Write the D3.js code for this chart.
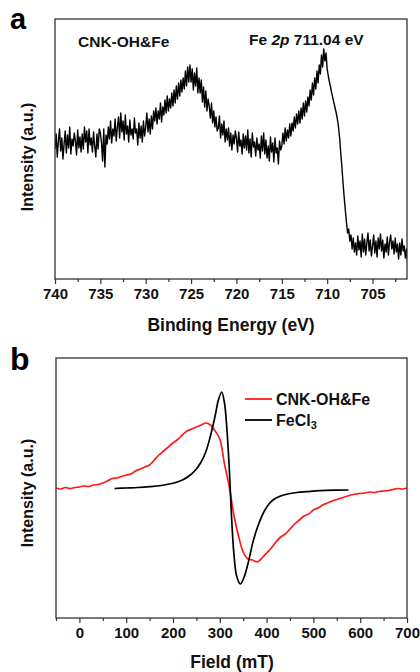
<!DOCTYPE html>
<html>
<head>
<meta charset="utf-8">
<script src="https://cdn.jsdelivr.net/npm/d3@7"></script>
<style>
  body { margin: 0; background: #fff; }
  svg { font-family: Arial, "Liberation Sans", Helvetica, sans-serif; }
</style>
</head>
<body>
<svg id="chart" width="420" height="672"></svg>
<script>
// ---- panel a : Fe 2p XPS (binding energy sampled every 0.125 eV from 740 eV) ----
const xpsStart = 740;
const xpsStep = 0.125;
const xpsIntensity = [
  130, 145, 122, 138, 150, 128, 141, 120,
  135, 148, 126, 144, 131, 152, 125, 140,
  133, 146, 138, 124, 149, 131, 142, 127,
  145, 130, 152, 137, 148, 126, 150, 134,
  141, 127, 147, 133, 122, 145, 130, 150,
  146, 136, 118, 150, 112, 144, 135, 152,
  140, 158, 136, 150, 143, 160, 138, 152,
  162, 141, 166, 147, 158, 139, 164, 145,
  153, 137, 159, 144, 150, 140, 161, 146,
  150, 134, 156, 141, 153, 137, 158, 143,
  152, 166, 147, 160, 145, 163, 150, 168,
  158, 171, 155, 168, 160, 176, 157, 172,
  164, 179, 166, 183, 168, 180, 171, 186,
  173, 189, 176, 193, 180, 196, 183, 199,
  187, 201, 190, 208, 193, 212, 197, 214,
  197, 210, 189, 206, 193, 211, 186, 201,
  186, 199, 177, 192, 172, 188, 168, 180,
  173, 161, 176, 156, 168, 152, 162, 148,
  151, 163, 141, 155, 144, 158, 137, 150,
  139, 151, 133, 146, 129, 144, 135, 148,
  141, 127, 147, 133, 139, 125, 145, 131,
  143, 129, 149, 126, 140, 122, 146, 132,
  137, 123, 141, 129, 135, 121, 143, 128,
  146, 125, 139, 121, 133, 118, 142, 127,
  136, 117, 141, 126, 131, 115, 138, 129,
  133, 146, 135, 151, 138, 149, 141, 155,
  143, 156, 148, 162, 151, 165, 155, 168,
  156, 171, 160, 176, 163, 178, 167, 182,
  173, 189, 179, 196, 184, 201, 190, 208,
  196, 214, 205, 224, 212, 230, 218, 226,
  210, 203, 197, 192, 186, 181, 176, 171,
  166, 160, 152, 141, 126, 112, 96, 82,
  69, 57, 46, 50, 38, 44, 30, 41,
  27, 36, 24, 43, 29, 38, 22, 45,
  27, 40, 24, 36, 46, 28, 39, 23,
  33, 44, 26, 38, 22, 41, 30, 45,
  28, 39, 21, 35, 27, 42, 24, 37,
  44, 30, 38, 25, 41, 27, 35, 20,
  36, 24, 40, 28, 33, 21, 30, 16
];
const xpsTicks = [740, 735, 730, 725, 720, 715, 710, 705];

// ---- panel b : EPR ----
const eprRedField = [-50, -40, -30, -20, -10, 0, 10, 20, 30, 40, 50, 60, 70, 80, 90, 100, 110, 120, 130, 140,
  150, 160, 170, 180, 190, 200, 210, 220, 230, 240, 250, 260, 270, 280, 290, 300, 310, 320, 330, 340,
  350, 360, 370, 380, 390, 400, 410, 420, 430, 440, 450, 460, 470, 480, 490, 500, 510, 520, 530, 540,
  550, 560, 570, 580, 590, 600, 610, 620, 630, 640, 650, 660, 670, 680, 690, 700];
const eprRedValue = [0, -1, 0.5, -0.5, 0.5, 1, 2, 1.5, 3, 3.5, 5, 7, 9.5, 10, 11.5, 13, 14, 17, 19, 21,
  23, 28, 33, 37, 41, 45, 48.5, 53, 57, 59, 61, 63, 65, 63, 57, 49, 24, 2, -27, -48,
  -64, -71, -72, -74, -70, -65, -60, -54, -49, -46, -41, -36, -32, -28, -26, -22, -20, -17, -15, -13,
  -11.5, -10, -8.5, -7, -6, -5.5, -5, -4, -4.5, -3.5, -3, -2.5, -1.5, -0.5, -1, 0];
const eprBlackField = [75, 100, 125, 150, 175, 200, 220, 237, 250, 260, 270, 280, 290, 297, 304, 310, 315, 320,
  325, 330, 336, 344, 352, 360, 372, 383, 393, 405, 415, 430, 445, 465, 486, 514, 545, 575];
const eprBlackValue = [-0.5, 0, 0.5, 1.3, 2.5, 4.7, 8, 13, 19, 26, 36, 52, 72, 88, 96, 85, 60, 22,
  -28, -65, -88, -96, -89, -76, -52, -36, -25, -16, -11.5, -8, -6, -4.5, -3.7, -2.7, -2.2, -2];
const eprTicks = [0, 100, 200, 300, 400, 500, 600, 700];
const eprSeries = ["CNK-OH&Fe", "FeCl3"];

const svg = d3.select('#chart');

function frame(g, w, h) {
  g.append('rect')
   .attr('x', 0).attr('y', 0)
   .attr('width', w).attr('height', h)
   .attr('fill', 'none')
   .attr('stroke', '#333')
   .attr('stroke-width', 1.3);
}

function bottomAxis(g, xScale, h, major, minor) {
  const ax = g.append('g').attr('transform', `translate(0,${h})`);
  ax.call(d3.axisBottom(xScale).tickValues(minor).tickSize(3).tickFormat(''))
    .call(a => a.select('.domain').remove())
    .selectAll('line').attr('stroke', '#333').attr('stroke-width', 1.2);
  const ax2 = g.append('g').attr('transform', `translate(0,${h})`);
  ax2.call(d3.axisBottom(xScale).tickValues(major).tickSize(5).tickPadding(4))
     .call(a => a.select('.domain').remove());
  ax2.selectAll('line').attr('stroke', '#333').attr('stroke-width', 1.2);
  ax2.selectAll('text')
     .attr('fill', '#111')
     .style('font-size', '15px')
     .style('font-weight', 'bold');
}

// ================= panel a =================
const aM = { left: 55, top: 19 };
const aW = 352, aH = 260;
const ga = svg.append('g').attr('transform', `translate(${aM.left},${aM.top})`);

ga.append('clipPath').attr('id', 'clipA')
  .append('rect').attr('width', aW).attr('height', aH);

const xA = d3.scaleLinear().domain([740, 701.2]).range([0, aW]);
const yA = d3.scaleLinear().domain([0, 260]).range([aH, 0]);

const xpsData = xpsIntensity.map((v, i) => ({ e: xpsStart - i * xpsStep, v: v }));

ga.append('path')
  .datum(xpsData)
  .attr('clip-path', 'url(#clipA)')
  .attr('fill', 'none')
  .attr('stroke', '#000')
  .attr('stroke-width', 1.4)
  .attr('stroke-linejoin', 'round')
  .attr('d', d3.line().x(d => xA(d.e)).y(d => yA(d.v)));

frame(ga, aW, aH);
const aMinor = d3.range(740, 701, -2.5).filter(v => v % 5 !== 0);
bottomAxis(ga, xA, aH, xpsTicks, aMinor);

ga.append('text')
  .attr('x', 23).attr('y', 28)
  .style('font-size', '15.5px').style('font-weight', 'bold').attr('fill', '#111')
  .text('CNK-OH&Fe');

const feLabel = ga.append('text')
  .attr('x', 194).attr('y', 26)
  .style('font-size', '15.5px').style('font-weight', 'bold').attr('fill', '#111');
feLabel.append('tspan').text('Fe ');
feLabel.append('tspan').style('font-style', 'italic').text('2p');
feLabel.append('tspan').text(' 711.04 eV');

svg.append('text')
  .attr('transform', 'rotate(-90)')
  .attr('x', -157).attr('y', 33)
  .style('text-anchor', 'middle')
  .style('font-size', '16px').style('font-weight', 'bold').attr('fill', '#111')
  .text('Intensity (a.u.)');

svg.append('text')
  .attr('x', 231).attr('y', 331)
  .style('text-anchor', 'middle')
  .style('font-size', '17.5px').style('font-weight', 'bold').attr('fill', '#111')
  .text('Binding Energy (eV)');

svg.append('text')
  .attr('x', 10).attr('y', 29)
  .style('font-size', '29px').style('font-weight', 'bold').attr('fill', '#000')
  .text('a');

// ================= panel b =================
const bM = { left: 56, top: 358 };
const bW = 351, bH = 260;
const gb = svg.append('g').attr('transform', `translate(${bM.left},${bM.top})`);

const xB = d3.scaleLinear().domain([-50, 700]).range([0, bW]);
const yB = d3.scaleLinear().domain([-130, 130]).range([bH, 0]);

const redData = eprRedField.map((f, i) => ({ f: f, v: eprRedValue[i] }));
const blackData = eprBlackField.map((f, i) => ({ f: f, v: eprBlackValue[i] }));

gb.append('path')
  .datum(redData)
  .attr('fill', 'none')
  .attr('stroke', '#ff1a1a')
  .attr('stroke-width', 1.7)
  .attr('d', d3.line().curve(d3.curveCatmullRom).x(d => xB(d.f)).y(d => yB(d.v)));

gb.append('path')
  .datum(blackData)
  .attr('fill', 'none')
  .attr('stroke', '#000')
  .attr('stroke-width', 1.7)
  .attr('d', d3.line().curve(d3.curveCatmullRom).x(d => xB(d.f)).y(d => yB(d.v)));

frame(gb, bW, bH);
const bMinor = d3.range(-50, 701, 50).filter(v => v % 100 !== 0);
bottomAxis(gb, xB, bH, eprTicks, bMinor);

// legend
const legColors = ['#ff1a1a', '#000'];
eprSeries.forEach((name, i) => {
  const ly = 41 + i * 21;
  gb.append('line')
    .attr('x1', 189).attr('x2', 216)
    .attr('y1', ly).attr('y2', ly)
    .attr('stroke', legColors[i]).attr('stroke-width', 1.8);
  const t = gb.append('text')
    .attr('x', 220).attr('y', ly + 6)
    .style('font-size', '16px').style('font-weight', 'bold').attr('fill', '#111');
  if (name === 'FeCl3') {
    t.append('tspan').text('FeCl');
    t.append('tspan').attr('dy', 3).style('font-size', '11px').text('3');
  } else {
    t.text(name);
  }
});

svg.append('text')
  .attr('transform', 'rotate(-90)')
  .attr('x', -493).attr('y', 33)
  .style('text-anchor', 'middle')
  .style('font-size', '16px').style('font-weight', 'bold').attr('fill', '#111')
  .text('Intensity (a.u.)');

svg.append('text')
  .attr('x', 232).attr('y', 668)
  .style('text-anchor', 'middle')
  .style('font-size', '17.5px').style('font-weight', 'bold').attr('fill', '#111')
  .text('Field (mT)');

svg.append('text')
  .attr('x', 10).attr('y', 370)
  .style('font-size', '32px').style('font-weight', 'bold').attr('fill', '#000')
  .text('b');
</script>
</body>
</html>
